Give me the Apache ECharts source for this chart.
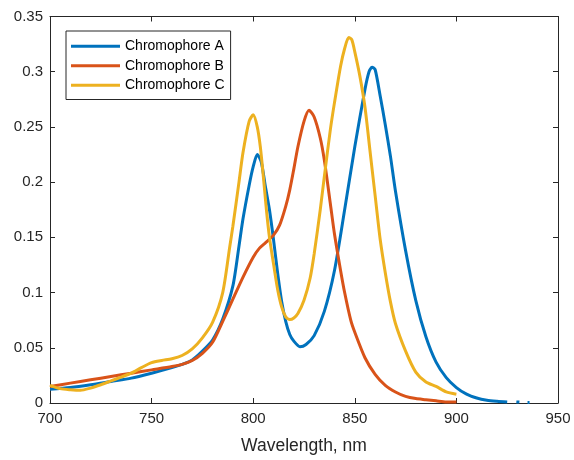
<!DOCTYPE html>
<html>
<head>
<meta charset="utf-8">
<script src="https://cdn.jsdelivr.net/npm/echarts@6/dist/echarts.min.js"></script>
<style>
html,body{margin:0;padding:0;background:#fff;}
#chart{width:574px;height:460px;}
</style>
</head>
<body>
<div id="chart"></div>
<script>
// ---- data ----
var seriesNames = ['Chromophore A', 'Chromophore B', 'Chromophore C'];
var xTicks = [700, 750, 800, 850, 900, 950];
var yTicks = [0, 0.05, 0.1, 0.15, 0.2, 0.25, 0.3, 0.35];

var wavelengthA = [700,710,720,730,740,750,760,765,770,775,780,785,790,793,795,798,800,802,804,806,808,810,812,814,816,818,820,823,826,830,835,840,845,850,855,857,858.5,860,862.5,865,867.5,870,875,880,885,890,895,900,905,910,915,920,925,927,929.5,931,933,935,936];
var absorbA = [0.0125,0.014,0.0165,0.0195,0.0225,0.027,0.032,0.035,0.039,0.047,0.057,0.076,0.106,0.142,0.167,0.197,0.214,0.225,0.218,0.196,0.175,0.148,0.118,0.092,0.074,0.062,0.056,0.051,0.053,0.061,0.083,0.12,0.175,0.232,0.284,0.3,0.304,0.302,0.278,0.252,0.224,0.192,0.138,0.093,0.06,0.037,0.023,0.014,0.008,0.0045,0.0025,0.0015,0.0008,null,0.001,0.0008,null,0.0005,0.0005];

var wavelengthB = [700,710,720,730,740,750,760,765,770,775,780,785,790,795,800,803,806,810,813,816,818,820,822,825,827.5,830,833,835,838,840,843,845,848,850,855,860,865,870,875,880,885,890,895,900];
var absorbB = [0.015,0.018,0.021,0.024,0.027,0.03,0.033,0.035,0.0385,0.045,0.055,0.074,0.094,0.114,0.132,0.14,0.145,0.152,0.161,0.178,0.193,0.212,0.232,0.255,0.265,0.259,0.24,0.22,0.18,0.153,0.12,0.1,0.075,0.064,0.041,0.026,0.016,0.01,0.006,0.004,0.003,0.002,0.001,0.001];

var wavelengthC = [700,705,710,715,720,725,730,735,740,745,750,755,760,765,770,775,780,785,788.5,790,793,795,798,800,802,803.5,805,806.5,808,810,812,814,816,818,820,822,825,828,830,833,835,838,840,843,845,847,848.5,850,852.5,855,857.5,860,862.5,865,867.5,870,875,880,885,890,895,900];
var absorbC = [0.016,0.013,0.012,0.0115,0.0135,0.0165,0.02,0.0235,0.027,0.032,0.0365,0.0385,0.04,0.043,0.049,0.059,0.073,0.1,0.142,0.16,0.2,0.227,0.255,0.261,0.25,0.232,0.205,0.175,0.15,0.126,0.103,0.087,0.078,0.0756,0.077,0.081,0.093,0.113,0.135,0.175,0.205,0.248,0.272,0.305,0.321,0.331,0.329,0.318,0.296,0.268,0.228,0.188,0.148,0.118,0.092,0.072,0.047,0.028,0.019,0.015,0.01,0.008];

var colors = ['#0072BD', '#D95319', '#EDB120'];

function zip(xs, ys) {
  var out = [];
  for (var i = 0; i < xs.length; i++) out.push([xs[i], ys[i]]);
  return out;
}

var font = '"Liberation Sans", Arial, Helvetica, sans-serif';
var axisColor = '#262626';

var chart = echarts.init(document.getElementById('chart'), null, {renderer: 'canvas'});

function xAx(pos, showLabel) {
  return {
    type: 'value', position: pos,
    min: xTicks[0], max: xTicks[xTicks.length - 1], interval: xTicks[1] - xTicks[0],
    name: showLabel ? 'Wavelength, nm' : '',
    nameLocation: 'middle', nameGap: 34,
    nameTextStyle: {fontSize: 17.5, color: axisColor, fontFamily: font},
    axisLine: {show: true, onZero: false, lineStyle: {color: axisColor, width: 1}},
    axisTick: {show: true, inside: true, length: 5, lineStyle: {color: axisColor}},
    axisLabel: {show: showLabel, fontSize: 15, color: axisColor, fontFamily: font, margin: 8},
    splitLine: {show: false}
  };
}
function yAx(pos, showLabel) {
  return {
    type: 'value', position: pos,
    min: yTicks[0], max: yTicks[yTicks.length - 1], interval: 0.05,
    axisLine: {show: true, onZero: false, lineStyle: {color: axisColor, width: 1}},
    axisTick: {show: true, inside: true, length: 5, lineStyle: {color: axisColor}},
    axisLabel: {show: showLabel, fontSize: 15, color: axisColor, fontFamily: font, margin: 7},
    splitLine: {show: false}
  };
}

var series = [];
var data = [zip(wavelengthA, absorbA), zip(wavelengthB, absorbB), zip(wavelengthC, absorbC)];
for (var i = 0; i < 3; i++) {
  series.push({
    name: seriesNames[i], type: 'line', data: data[i],
    xAxisIndex: 0, yAxisIndex: 0,
    showSymbol: false, symbol: 'none', smooth: 0.25, connectNulls: false,
    lineStyle: {color: colors[i], width: 3},
    itemStyle: {color: colors[i]},
    z: 2 + i
  });
}

chart.setOption({
  animation: false,
  backgroundColor: '#ffffff',
  grid: {left: 50, right: 16, top: 16.5, bottom: 50, containLabel: false},
  xAxis: [xAx('bottom', true), xAx('top', false)],
  yAxis: [yAx('left', true), yAx('right', false)],
  legend: {
    orient: 'vertical', left: 66, top: 31,
    data: seriesNames,
    icon: 'rect', itemWidth: 49, itemHeight: 3, itemGap: 5,
    padding: [8, 6, 7, 5],
    borderColor: axisColor, borderWidth: 1, backgroundColor: '#fff',
    textStyle: {fontSize: 14, color: '#000', fontFamily: font, lineHeight: 14.5}
  },
  series: series
});
</script>
</body>
</html>
